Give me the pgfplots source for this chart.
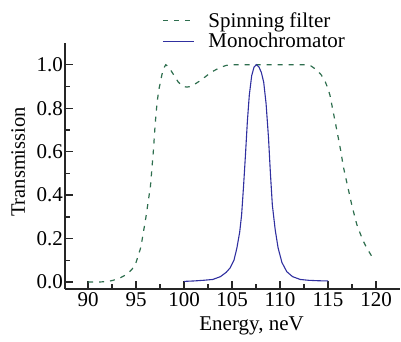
\documentclass[border=0pt]{standalone}
\usepackage{fontspec}
\setmainfont{Liberation Serif}
\usepackage{pgfplots}
\pgfplotsset{compat=1.18}
\usetikzlibrary{calc}
\definecolor{sfgreen}{RGB}{46,110,78}
\definecolor{mblue}{RGB}{48,48,160}
\newcommand{\bigfont}{\fontsize{21}{25}\selectfont}
\begin{document}
\begin{tikzpicture}[font=\bigfont]
\begin{axis}[
  scale only axis, width=335pt, height=246pt,
  xmin=87.6, xmax=122.5, ymin=-0.032, ymax=1.1,
  axis x line=bottom, axis y line=left,
  axis line style={-, line width=1.8pt, black!85},
  xtick={90,95,...,120}, minor x tick num=1,
  ytick={0,0.2,0.4,0.6,0.8,1.0}, minor y tick num=1,
  tick align=inside, major tick length=8pt, minor tick length=5pt,
  every tick/.style={line width=1.3pt, black!85},
  tick label style={font=\bigfont},
  /pgf/number format/assume math mode=true,
  xticklabel={\textrm{\pgfmathprintnumber{\tick}}},
  yticklabel={\textrm{\pgfmathprintnumber[fixed, fixed zerofill, precision=1]{\tick}}},
  yticklabel style={xshift=1.5pt},
  xlabel={Energy, neV}, ylabel={Transmission},
  xlabel style={at={(axis description cs:0.557,-0.1707)}, anchor=base, font=\bigfont},
  ylabel style={at={(axis description cs:-0.1194,0.516)}, anchor=base, font=\fontsize{20.5}{24}\selectfont},
  legend style={draw=none, fill=none, font=\bigfont, at={(axis description cs:0.2896,1.0)}, anchor=south west,
    yshift=-7.5pt, row sep=2.5pt, inner sep=0pt, nodes={inner sep=1pt}},
  legend cell align=left,
  legend image code/.code={\draw[#1] (0pt,0pt) -- (31pt,0pt); \path (44pt,0pt);},
]
\coordinate (bl) at (rel axis cs:0,0);
\addplot[sfgreen, line width=1.2pt, dash pattern=on 5pt off 6pt] coordinates {
(90,0.000) (91,0.000) (92,0.002) (92.6,0.008) (93.3,0.018) (94.1,0.037) (94.6,0.06)
(95.0,0.09) (95.5,0.16) (96.0,0.29) (96.5,0.44) (96.8,0.6) (97.0,0.73) (97.2,0.83)
(97.4,0.89) (97.7,0.955) (97.9,0.985) (98.1,1.0) (98.4,0.99) (98.9,0.955) (99.4,0.92)
(99.9,0.9) (100.3,0.897) (100.7,0.9) (101.1,0.91) (101.8,0.93) (102.4,0.951) (103.1,0.972)
(103.75,0.987) (104.4,0.997) (105,1.0) (112.6,1.0) (113.2,0.995) (113.8,0.977) (114.3,0.953)
(114.7,0.923) (115.0,0.89) (115.2,0.86) (115.6,0.77) (116.0,0.68) (116.3,0.61) (116.6,0.53)
(117.0,0.45) (117.5,0.35) (118.0,0.265) (118.6,0.195) (119.0,0.16) (119.6,0.115)
};
\addlegendentry{Spinning filter}
\addplot[mblue, line width=1.1pt] coordinates {
(100,0.003) (101,0.005) (102,0.008) (103,0.012) (103.8,0.025) (104.4,0.045) (104.8,0.065)
(105.2,0.10) (105.5,0.155) (105.8,0.23) (106.0,0.31) (106.2,0.44) (106.4,0.585) (106.6,0.74)
(106.8,0.86) (107.05,0.95) (107.3,0.99) (107.55,1.0) (107.8,0.99) (108.05,0.965) (108.3,0.92)
(108.55,0.82) (108.8,0.664) (109.0,0.50) (109.2,0.355) (109.5,0.24) (109.8,0.157) (110.2,0.09)
(110.7,0.048) (111.3,0.025) (112.1,0.012) (113,0.008) (114,0.006) (115,0.005)
};
\addlegendentry{Monochromator}
\end{axis}
\pgfresetboundingbox
\path ($(bl)+(-65pt,-52pt)$) rectangle ($(bl)+(336pt,289pt)$);
\end{tikzpicture}
\end{document}
